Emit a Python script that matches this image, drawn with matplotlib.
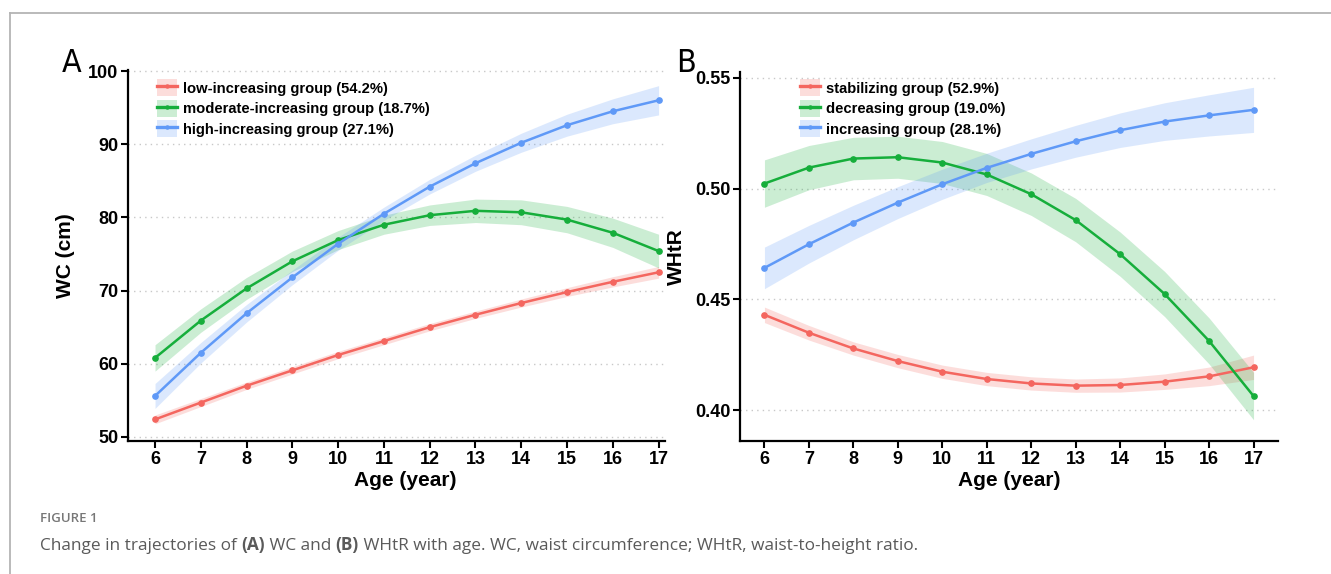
import numpy as np
import matplotlib
matplotlib.use("Agg")
import matplotlib.pyplot as plt
from matplotlib.lines import Line2D
from matplotlib.patches import Patch
from matplotlib.legend_handler import HandlerTuple

ages = np.arange(6, 18)

# panel A: waist circumference (cm)
wc_labels = ["low-increasing group (54.2%)",
             "moderate-increasing group (18.7%)",
             "high-increasing group (27.1%)"]
wc_low = [52.4, 54.7, 57.0, 59.1, 61.2, 63.1, 65.0, 66.7, 68.3, 69.8, 71.2, 72.5]
wc_mod = [60.8, 65.9, 70.3, 74.0, 76.9, 79.0, 80.3, 80.9, 80.7, 79.7, 77.9, 75.4]
wc_high = [55.6, 61.5, 66.9, 71.8, 76.4, 80.5, 84.2, 87.4, 90.2, 92.6, 94.5, 96.0]
# half widths of the confidence bands
wc_low_ci = [0.6, 0.55, 0.5, 0.5, 0.5, 0.5, 0.5, 0.5, 0.55, 0.6, 0.7, 0.8]
wc_mod_ci = [1.8, 1.6, 1.5, 1.4, 1.3, 1.3, 1.4, 1.6, 1.7, 1.8, 2.0, 2.3]
wc_high_ci = [1.7, 1.4, 1.2, 1.0, 0.9, 0.9, 1.0, 1.1, 1.3, 1.5, 1.7, 2.0]

# panel B: waist-to-height ratio
whtr_labels = ["stabilizing group (52.9%)",
               "decreasing group (19.0%)",
               "increasing group (28.1%)"]
whtr_stab = [0.4430, 0.4349, 0.4278, 0.4221, 0.4173, 0.4140, 0.4120, 0.4110, 0.4113, 0.4128, 0.4152, 0.4193]
whtr_dec = [0.5023, 0.5095, 0.5136, 0.5142, 0.5118, 0.5064, 0.4975, 0.4858, 0.4704, 0.4524, 0.4312, 0.4063]
whtr_inc = [0.4642, 0.4749, 0.4847, 0.4937, 0.5020, 0.5094, 0.5157, 0.5214, 0.5264, 0.5303, 0.5331, 0.5356]
whtr_stab_ci = [0.0035, 0.0033, 0.0030, 0.0030, 0.0030, 0.0030, 0.0030, 0.0030, 0.0032, 0.0035, 0.0042, 0.0055]
whtr_dec_ci = [0.0107, 0.0100, 0.0096, 0.0095, 0.0095, 0.0095, 0.0096, 0.0098, 0.0100, 0.0102, 0.0104, 0.0107]
whtr_inc_ci = [0.0094, 0.0085, 0.0078, 0.0072, 0.0068, 0.0066, 0.0068, 0.0072, 0.0078, 0.0085, 0.0093, 0.0102]

colors = ["#F4665F", "#16AE3B", "#5F99F7"]

plt.rcParams["font.family"] = ["Liberation Sans", "DejaVu Sans"]

fig = plt.figure(figsize=(13.31, 5.74), dpi=100)
W, H = 1331, 574


def px_axes(left, top, right, bottom):
    return fig.add_axes([left / W, 1 - bottom / H, (right - left) / W, (bottom - top) / H])


def draw_panel(ax, series, cis, labels, xlim, ylim, yticks, yfmt, ylabel, leg_anchor):
    handles = []
    for vals, ci, col in zip(series, cis, colors):
        vals = np.array(vals)
        ci = np.array(ci)
        ax.fill_between(ages, vals - ci, vals + ci, color=col, alpha=0.22, lw=0, zorder=2)
        ax.plot(ages, vals, color=col, lw=1.8, marker="o", ms=3.8, zorder=3)
        handles.append((Patch(facecolor=col, alpha=0.22, lw=0),
                        Line2D([], [], color=col, lw=2.4, marker="o", ms=2.2)))
    ax.set_xlim(*xlim)
    ax.set_ylim(*ylim)
    ax.set_xticks(ages)
    ax.set_yticks(yticks)
    ax.set_yticklabels([yfmt.format(v) for v in yticks])
    for v in yticks:
        ax.axhline(v, color="#c8c8c8", lw=1.0, ls=(0, (1, 3)), zorder=1)
    for s in ["top", "right"]:
        ax.spines[s].set_visible(False)
    for s in ["left", "bottom"]:
        ax.spines[s].set_linewidth(1.6)
    ax.tick_params(axis="both", direction="out", length=5, width=1.5, pad=2,
                   labelsize=13, colors="black")
    for lab in ax.get_xticklabels() + ax.get_yticklabels():
        lab.set_fontweight("bold")
    ax.set_xlabel("Age (year)", fontsize=15, fontweight="bold")
    ax.set_ylabel(ylabel, fontsize=15, fontweight="bold")
    leg = ax.legend(handles, labels, loc="upper left", bbox_to_anchor=leg_anchor,
                    handler_map={tuple: HandlerTuple(ndivide=1, pad=0)},
                    frameon=False, prop={"weight": "bold", "size": 10.6},
                    handlelength=1.35, handleheight=1.4, handletextpad=0.45,
                    labelspacing=0.24, borderpad=0, borderaxespad=0)
    return leg


axA = px_axes(128, 70, 665, 441)
draw_panel(axA, [wc_low, wc_mod, wc_high], [wc_low_ci, wc_mod_ci, wc_high_ci], wc_labels,
           (5.41, 17.14), (49.45, 100.14), [50, 60, 70, 80, 90, 100], "{:.0f}", "WC (cm)",
           (0.054, 0.975))
axA.xaxis.set_label_coords(0.516, -0.08)
axA.yaxis.set_label_coords(-0.099, 0.5)

axB = px_axes(740, 72, 1278, 441)
draw_panel(axB, [whtr_stab, whtr_dec, whtr_inc], [whtr_stab_ci, whtr_dec_ci, whtr_inc_ci], whtr_labels,
           (5.45, 17.55), (0.386, 0.5527), [0.40, 0.45, 0.50, 0.55], "{:.2f}", "WHtR",
           (0.1115, 0.98))
axB.xaxis.set_label_coords(0.5, -0.08)
axB.yaxis.set_label_coords(-0.100, 0.5)

# panel letters
for xl, letter in [(62, "A"), (676, "B")]:
    fig.text(xl / W, 1 - 72 / H, letter, fontsize=23, family=["DejaVu Sans"],
             ha="left", va="baseline", fontstretch="condensed")

# frame lines
fig.add_artist(Line2D([9.5 / W, 9.5 / W], [0, 1 - 13 / H], color="#b4b4b4", lw=1.3))
fig.add_artist(Line2D([9.5 / W, 1], [1 - 13 / H, 1 - 13 / H], color="#b4b4b4", lw=1.3))

# caption
cap_font = ["Open Sans", "DejaVu Sans"]
fig.text(40 / W, 1 - 522 / H, "FIGURE 1", fontsize=9.5, color="#777777", fontweight="semibold",
         family=cap_font, va="baseline")
pieces = [("Change in trajectories of ", "normal"), ("(A)", "bold"), (" WC and ", "normal"),
          ("(B)", "bold"),
          (" WHtR with age. WC, waist circumference; WHtR, waist-to-height ratio.", "normal")]
fig.canvas.draw()
renderer = fig.canvas.get_renderer()
x = 40
for txt, wt in pieces:
    t = fig.text(x / W, 1 - 550 / H, txt, fontsize=12.4, color="#5a5a5a", fontweight=wt,
                 family=cap_font, va="baseline")
    bb = t.get_window_extent(renderer)
    x += bb.width

fig.savefig("out.png", dpi=100)
